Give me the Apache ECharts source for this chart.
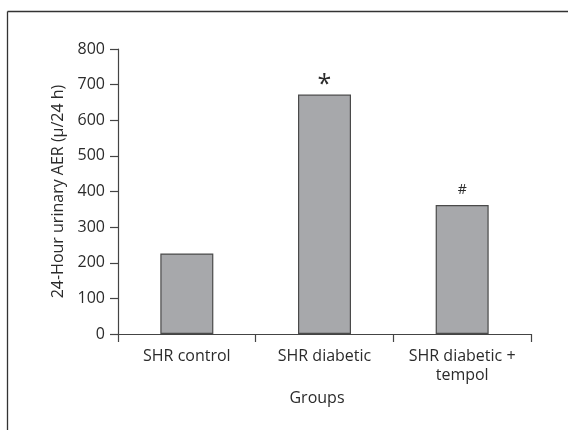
<!DOCTYPE html>
<html>
<head>
<meta charset="utf-8">
<script src="https://cdn.jsdelivr.net/npm/echarts@6/dist/echarts.min.js"></script>
<style>
  html, body { margin: 0; padding: 0; background: #fff; }
  #chart { width: 568px; height: 430px; }
</style>
</head>
<body>
<div id="chart"></div>
<script>
var groups = ['SHR control', 'SHR diabetic', 'SHR diabetic +\ntempol'];
var aer = [226, 672, 362];
var marks = ['', '*', '#'];
var yTicks = { min: 0, max: 800, step: 100 };

var dom = document.getElementById('chart');
var myChart = echarts.init(dom);

var font = '"Open Sans", sans-serif';
var ink = '#2b2b2b';

var option = {
    animation: false,
    backgroundColor: '#fff',
    textStyle: { fontFamily: font },
    grid: {
        left: 118,
        right: 37,
        top: 49,
        bottom: 96,
        containLabel: false
    },
    xAxis: {
        type: 'category',
        data: groups,
        name: 'Groups',
        nameLocation: 'middle',
        nameGap: 56,
        nameTextStyle: {
            color: ink,
            fontSize: 16,
            fontFamily: font,
            padding: [0, 15, 0, 0]
        },
        axisLine: { lineStyle: { color: '#444', width: 1.2 } },
        axisTick: { show: true, length: 8, lineStyle: { color: '#444', width: 1.2 } },
        axisLabel: {
            color: ink,
            fontSize: 16,
            fontFamily: font,
            margin: 13,
            lineHeight: 19,
            interval: 0
        }
    },
    yAxis: {
        type: 'value',
        min: yTicks.min,
        max: yTicks.max,
        interval: yTicks.step,
        name: '24-Hour urinary AER (µ/24 h)',
        nameLocation: 'middle',
        nameGap: 46,
        nameTextStyle: {
            color: ink,
            fontSize: 16,
            fontFamily: font
        },
        axisLine: { show: true, lineStyle: { color: '#444', width: 1.2 } },
        axisTick: { show: true, length: 8, lineStyle: { color: '#444', width: 1.2 } },
        splitLine: { show: false },
        axisLabel: {
            color: ink,
            fontSize: 16,
            fontFamily: font,
            margin: 13
        }
    },
    series: [
        {
            name: 'AER',
            type: 'bar',
            barWidth: 53,
            data: aer,
            itemStyle: {
                color: '#a7a8ab',
                borderColor: '#4a4a4a',
                borderWidth: 1.2
            },
            label: {
                show: true,
                position: 'top',
                distance: 4,
                color: ink,
                fontFamily: font,
                formatter: function (p) {
                    var m = marks[p.dataIndex];
                    if (m === '*') return '{star|*}';
                    if (m === '#') return '{hash|#}';
                    return '';
                },
                rich: {
                    star: { fontSize: 25, color: ink, fontFamily: font, lineHeight: 12 },
                    hash: { fontSize: 14, color: ink, fontFamily: font, padding: [0, 0, 4, 0] }
                }
            }
        }
    ],
    graphic: [
        {
            type: 'line',
            shape: { x1: 7.5, y1: 11.5, x2: 568, y2: 11.5 },
            style: { stroke: '#333', lineWidth: 1.3 }
        },
        {
            type: 'line',
            shape: { x1: 7.5, y1: 11.5, x2: 7.5, y2: 430 },
            style: { stroke: '#333', lineWidth: 1.3 }
        }
    ]
};

if (option && typeof option === 'object') {
    myChart.setOption(option, true);
}
</script>
</body>
</html>
